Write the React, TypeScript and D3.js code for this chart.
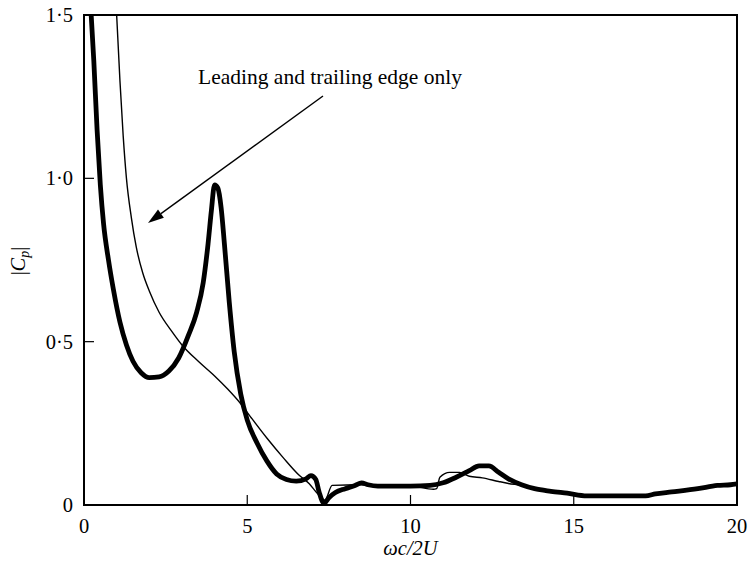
import React from "react";
import * as d3 from "d3";

// Full-chord response |Cp| vs reduced frequency
const fullX = [0.22, 0.3, 0.4, 0.5, 0.6, 0.75, 0.9, 1.1, 1.3, 1.5, 1.75, 2.0, 2.3, 2.6, 2.9, 3.2, 3.45, 3.65, 3.8, 3.9, 4.0, 4.1, 4.2, 4.3, 4.45, 4.6, 4.8, 5.0, 5.3, 5.6, 5.9, 6.2, 6.5, 6.8, 6.95, 7.1, 7.2, 7.35, 7.5, 7.7, 8.0, 8.3, 8.5, 8.7, 9.0, 10.0, 10.6, 11.0, 11.4, 11.8, 12.1, 12.4, 12.7, 13.0, 13.4, 13.8, 14.3, 14.8, 15.4, 16.5, 17.2, 17.5, 18.0, 18.8, 19.4, 19.8, 20.0];
const fullY = [1.5, 1.36, 1.15, 0.98, 0.86, 0.75, 0.66, 0.56, 0.49, 0.44, 0.405, 0.39, 0.392, 0.41, 0.45, 0.52, 0.59, 0.68, 0.8, 0.9, 0.98, 0.97, 0.91, 0.8, 0.62, 0.47, 0.34, 0.26, 0.19, 0.135, 0.095, 0.078, 0.073, 0.08, 0.09, 0.078, 0.04, 0.005, 0.022, 0.038, 0.05, 0.06, 0.068, 0.062, 0.058, 0.058, 0.06, 0.068, 0.085, 0.105, 0.12, 0.12, 0.1, 0.08, 0.062, 0.05, 0.042, 0.036, 0.028, 0.028, 0.028, 0.034, 0.04, 0.05, 0.06, 0.062, 0.065];

// Leading and trailing edge only
const edgeX = [1.0, 1.1, 1.2, 1.3, 1.45, 1.6, 1.8, 2.0, 2.3, 2.7, 3.0, 3.5, 4.0, 4.4, 4.8, 5.1, 5.6, 6.1, 6.6, 6.9, 7.15, 7.38, 7.6, 8.5, 9.0, 10.0, 10.7, 10.8, 10.9, 11.2, 11.5, 11.8, 12.2, 12.7, 13.0, 13.4, 13.8, 14.3, 14.8, 15.4, 16.5, 17.2, 17.5, 18.0, 18.8, 19.4, 19.8, 20.0];
const edgeY = [1.5, 1.3, 1.13, 1.0, 0.88, 0.79, 0.71, 0.655, 0.59, 0.53, 0.49, 0.44, 0.395, 0.355, 0.31, 0.27, 0.205, 0.145, 0.09, 0.065, 0.035, 0.015, 0.06, 0.062, 0.058, 0.058, 0.048, 0.05, 0.085, 0.1, 0.1, 0.088, 0.083, 0.072, 0.066, 0.06, 0.05, 0.042, 0.036, 0.028, 0.028, 0.028, 0.034, 0.04, 0.05, 0.06, 0.062, 0.065];

const xTicks = [0, 5, 10, 15, 20];
const yTicks = [0, 0.5, 1.0, 1.5];
const yTickLabels = ["0", "0·5", "1·0", "1·5"];

const W = 750;
const H = 572;
const left = 84;
const right = 737;
const top = 15;
const bottom = 505;

export default function App() {
  const x = d3.scaleLinear().domain([0, 20]).range([left, right]);
  const y = d3.scaleLinear().domain([0, 1.5]).range([bottom, top]);
  const line = d3
    .line<[number, number]>()
    .x((d) => x(d[0]))
    .y((d) => y(d[1]))
    .curve(d3.curveMonotoneX);
  const fullPts = fullX.map((v, i) => [v, fullY[i]] as [number, number]);
  const edgePts = edgeX.map((v, i) => [v, edgeY[i]] as [number, number]);
  const font = "'Liberation Serif', 'Times New Roman', serif";

  // annotation arrow
  const ax0 = 323, ay0 = 96, ax1 = 148, ay1 = 223;
  const ang = Math.atan2(ay1 - ay0, ax1 - ax0);
  const hl = 16, hw = 5;
  const bx = ax1 - hl * Math.cos(ang), by = ay1 - hl * Math.sin(ang);
  const head = [
    [ax1, ay1],
    [bx + hw * Math.sin(ang), by - hw * Math.cos(ang)],
    [bx - hw * Math.sin(ang), by + hw * Math.cos(ang)],
  ];

  return (
    <svg
      width={W}
      height={H}
      style={{ position: "absolute", left: 0, top: 0, background: "#fff" }}
    >
      <defs>
        <clipPath id="plotArea">
          <rect x={left} y={top} width={right - left} height={bottom - top} />
        </clipPath>
      </defs>
      <rect x={0} y={0} width={W} height={H} fill="#fff" />

      {/* inward ticks */}
      {xTicks.slice(1, -1).map((t) => (
        <line key={"xt" + t} x1={x(t)} x2={x(t)} y1={bottom} y2={bottom - 10} stroke="#000" strokeWidth={1.2} />
      ))}
      {yTicks.slice(1, -1).map((t) => (
        <line key={"yt" + t} x1={left} x2={left + 10} y1={y(t)} y2={y(t)} stroke="#000" strokeWidth={1.2} />
      ))}

      <g clipPath="url(#plotArea)">
        <path d={line(edgePts) || ""} fill="none" stroke="#000" strokeWidth={1.4} />
        <path d={line(fullPts) || ""} fill="none" stroke="#000" strokeWidth={4.8} strokeLinejoin="round" />
      </g>

      <rect x={left} y={top} width={right - left} height={bottom - top} fill="none" stroke="#000" strokeWidth={2} />

      {xTicks.map((t) => (
        <text key={"xl" + t} x={x(t)} y={bottom + 28} textAnchor="middle" fontFamily={font} fontSize={20.5}>
          {t}
        </text>
      ))}
      {yTicks.map((t, i) => (
        <text key={"yl" + t} x={left - 11} y={y(t) + 7} textAnchor="end" fontFamily={font} fontSize={20.5}>
          {yTickLabels[i]}
        </text>
      ))}

      <text x={(left + right) / 2} y={555} textAnchor="middle" fontFamily={font} fontSize={20.5} fontStyle="italic">
        ωc/2U
      </text>
      <text
        transform={`translate(25, ${261}) rotate(-90)`}
        textAnchor="middle"
        fontFamily={font}
        fontSize={20}
      >
        |<tspan fontStyle="italic">C</tspan>
        <tspan fontStyle="italic" fontSize={14} dy={4}>p</tspan>
        <tspan dy={-4}>|</tspan>
      </text>

      <text x={330} y={84} textAnchor="middle" fontFamily={font} fontSize={21.5}>
        Leading and trailing edge only
      </text>
      <line x1={ax0} y1={ay0} x2={bx} y2={by} stroke="#000" strokeWidth={1.4} />
      <polygon points={head.map((p) => p.join(",")).join(" ")} fill="#000" />
    </svg>
  );
}
